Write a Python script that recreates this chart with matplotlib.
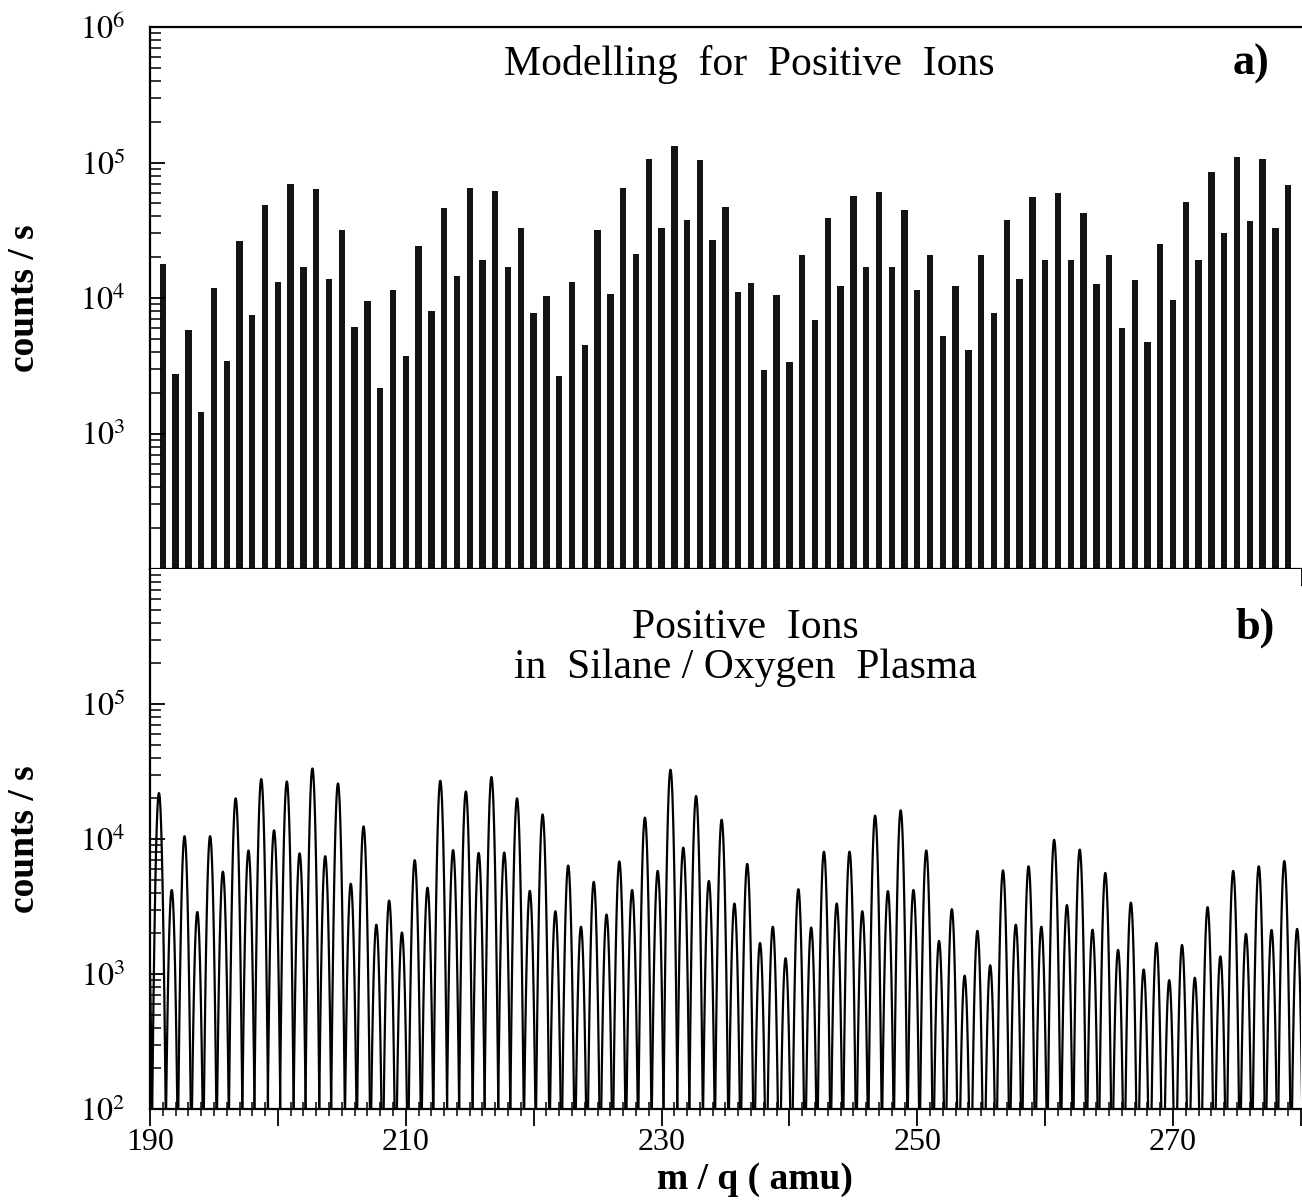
import numpy as np
import matplotlib
matplotlib.use("Agg")
import matplotlib.pyplot as plt
from matplotlib.ticker import FixedLocator, LogLocator, MultipleLocator, FuncFormatter, NullFormatter

plt.rcParams['font.family'] = ['Liberation Serif', 'DejaVu Serif']
plt.rcParams['mathtext.fontset'] = 'stix'

# a) modelled intensities, one bar per integer mass 191..279
model_mass = np.arange(191, 280)
model_counts = [
    17700, 2760, 5850, 1450, 11800, 3400, 26200, 7450, 48700, 13200,
    69800, 17000, 64100, 13700, 31800, 6120, 9550, 2150, 11400, 3750,
    24300, 8060, 45900, 14500, 65300, 19100, 61200, 16900, 32900, 7760,
    10300, 2640, 13100, 4520, 31600, 10700, 64700, 21100, 107000, 32700,
    132000, 37400, 105000, 27000, 47300, 11000, 12800, 2960, 10500, 3370,
    20800, 6900, 39200, 12300, 56800, 16900, 60600, 16800, 44400, 11500,
    20600, 5280, 12300, 4150, 20600, 7760, 37800, 13800, 55800, 19000,
    59600, 19000, 42700, 12700, 20600, 5980, 13600, 4760, 25000, 9600,
    51300, 19000, 84700, 30400, 110000, 37300, 106000, 33100, 67900,
]

# b) measured peak heights, masses 190..280
meas_mass = np.arange(190, 281)
meas_counts = [
    6000, 21900, 4190, 10500, 2880, 10500, 5730, 20000, 8220, 27800,
    11600, 26700, 7830, 33300, 7460, 25800, 4660, 12400, 2320, 3500,
    2030, 6970, 4360, 27000, 8280, 22500, 7890, 28800, 7940, 20000,
    4130, 15200, 2920, 6360, 2240, 4820, 2760, 6820, 4190, 14400,
    5810, 32600, 8640, 20800, 4890, 13900, 3330, 6540, 1700, 2240,
    1310, 4250, 2210, 8060, 3330, 8060, 2920, 14900, 4110, 16300,
    4190, 8230, 1760, 3020, 973, 2090, 1160, 5850, 2320, 6280,
    2240, 9860, 3240, 8350, 2130, 5610, 1510, 3380, 1080, 1700,
    901, 1640, 939, 3130, 1350, 5810, 1980, 6280, 2120, 6870,
    2160,
]
MASS_SHIFT = -0.3   # measured peaks sit slightly below the integer mass
PEAK_SIGMA = 0.16

fig = plt.figure(figsize=(13.02, 12), dpi=100)
ax1 = fig.add_axes([0.1152, 0.5258, 0.8840, 0.4517])
ax2 = fig.add_axes([0.1152, 0.0758, 0.8840, 0.4500])

for ax in (ax1, ax2):
    ax.set_yscale('log')
    ax.set_xlim(190, 280)
    ax.spines['right'].set_visible(False)
    for s in ('left', 'bottom', 'top'):
        ax.spines[s].set_linewidth(1.6)
    ax.yaxis.set_minor_locator(LogLocator(base=10, subs=np.arange(2, 10)))
    ax.yaxis.set_minor_formatter(NullFormatter())
    ax.yaxis.set_major_formatter(FuncFormatter(lambda v, p: r'$10^{%d}$' % round(np.log10(v))))
    ax.tick_params(axis='y', which='major', direction='in', length=11, width=1.3,
                   labelsize=23, pad=18)
    ax.tick_params(axis='y', which='minor', direction='in', length=8, width=1.1)
    ax.xaxis.set_major_locator(MultipleLocator(10))
    ax.xaxis.set_minor_locator(MultipleLocator(1))

# top panel
ax1.set_ylim(1e2, 1e6)
ax1.yaxis.set_major_locator(FixedLocator([1e3, 1e4, 1e5, 1e6]))
ax1.bar(model_mass, model_counts, width=0.5, bottom=1, color='#141414')
ax1.tick_params(axis='x', which='major', direction='out', length=12, width=1.3, labelbottom=False)
ax1.tick_params(axis='x', which='minor', direction='out', length=6, width=1.1)
ax1.text(0.521, 0.930, 'Modelling  for  Positive  Ions', transform=ax1.transAxes,
         ha='center', va='center', fontsize=30)
ax1.text(0.957, 0.932, 'a)', transform=ax1.transAxes, ha='center', va='center',
         fontsize=32, fontweight='bold')

# bottom panel: each peak drawn as its own narrow line shape
ax2.set_ylim(1e2, 1e6)
ax2.yaxis.set_major_locator(FixedLocator([1e2, 1e3, 1e4, 1e5]))
ax2.spines['top'].set_visible(False)
dx = np.linspace(-0.62, 0.62, 121)
for m, c in zip(meas_mass, meas_counts):
    ax2.plot(m + MASS_SHIFT + dx, c * np.exp(-dx ** 2 / (2 * PEAK_SIGMA ** 2)),
             color='black', lw=1.6)
ax2.xaxis.set_major_formatter(FuncFormatter(lambda v, p: '%d' % v if round(v - 190) % 20 == 0 else ''))
ax2.tick_params(axis='x', which='major', direction='out', length=12, width=1.3,
                labelsize=23, pad=2)
ax2.tick_params(axis='x', which='minor', direction='inout', length=10, width=1.1)
ax2.text(0.517, 0.891, 'Positive  Ions', transform=ax2.transAxes,
         ha='center', va='center', fontsize=30)
ax2.text(0.517, 0.817, 'in  Silane / Oxygen  Plasma', transform=ax2.transAxes,
         ha='center', va='center', fontsize=30)
ax2.text(0.960, 0.891, 'b)', transform=ax2.transAxes, ha='center', va='center',
         fontsize=32, fontweight='bold')

fig.text(0.0192, 0.7517, 'counts / s', rotation=90, ha='center', va='center',
         fontsize=27, fontweight='bold')
fig.text(0.0192, 0.3008, 'counts / s', rotation=90, ha='center', va='center',
         fontsize=27, fontweight='bold')
fig.text(0.580, 0.017, 'm / q ( amu)', ha='center', va='center',
         fontsize=27, fontweight='bold')

fig.savefig('out.png', dpi=100)
